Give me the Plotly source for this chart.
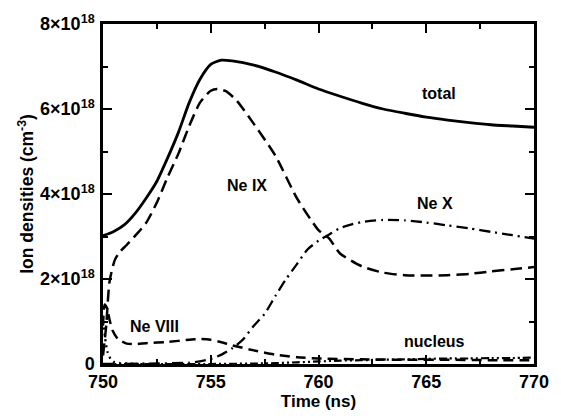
import plotly.graph_objects as go

# values in units of 1e18 cm^-3
t_total = [750, 750.5, 751, 751.5, 752, 752.5, 753, 753.5, 754, 754.5, 755, 755.5, 756, 757, 758, 759, 760, 761, 762, 763, 764, 765, 766, 767, 768, 769, 770]
total = [3.02, 3.12, 3.28, 3.55, 3.9, 4.3, 4.85, 5.45, 6.15, 6.7, 7.05, 7.15, 7.13, 7.03, 6.87, 6.68, 6.47, 6.3, 6.14, 6.0, 5.9, 5.81, 5.74, 5.68, 5.63, 5.6, 5.57]

t_ne9 = [750, 750.15, 750.3, 750.55, 750.8, 751.1, 751.5, 752, 752.5, 753, 753.5, 754, 754.5, 755, 755.3, 755.7, 756.2, 757, 758, 759, 760, 760.5, 761, 762, 763, 764, 765, 766, 767, 768, 769, 770]
ne9 = [0.2, 0.9, 1.93, 2.45, 2.65, 2.8, 3.02, 3.32, 3.8, 4.4, 4.95, 5.6, 6.15, 6.43, 6.47, 6.42, 6.2, 5.65, 4.9, 3.9, 3.15, 2.95, 2.6, 2.3, 2.15, 2.09, 2.08, 2.09, 2.12, 2.18, 2.23, 2.28]

t_ne8 = [750, 750.08, 750.2, 750.3, 750.45, 750.7, 751.1, 751.5, 752, 753, 754, 754.5, 755, 755.5, 756, 757, 758, 759, 760, 762, 764, 766, 768, 770]
ne8 = [0.9, 1.4, 1.3, 1.05, 0.78, 0.58, 0.48, 0.47, 0.49, 0.52, 0.57, 0.59, 0.57, 0.51, 0.44, 0.32, 0.22, 0.16, 0.13, 0.11, 0.1, 0.1, 0.09, 0.09]

t_ne10 = [750, 752, 754, 754.5, 755, 755.5, 756, 756.5, 757, 757.5, 758, 758.5, 759, 759.5, 760, 760.5, 761, 761.5, 762, 763, 764, 765, 766, 767, 768, 769, 770]
ne10 = [0.0, 0.01, 0.03, 0.06, 0.12, 0.22, 0.37, 0.58, 0.9, 1.18, 1.6, 2.0, 2.35, 2.7, 2.9, 3.05, 3.2, 3.28, 3.34, 3.39, 3.38, 3.33, 3.26, 3.19, 3.11, 3.03, 2.95]

t_ne7 = [750, 750.1, 750.2, 750.35, 750.5, 750.8, 751.2, 752]
ne7 = [1.0, 0.6, 0.3, 0.12, 0.05, 0.02, 0.01, 0.0]

t_nuc = [750, 755, 756, 757, 758, 759, 760, 761, 762, 763, 764, 765, 766, 767, 768, 769, 770]
nucleus = [0, 0, 0.005, 0.01, 0.02, 0.04, 0.06, 0.08, 0.09, 0.1, 0.11, 0.12, 0.13, 0.13, 0.14, 0.14, 0.15]

x_ticks = [750, 755, 760, 765, 770]
y_ticks = [0, 2, 4, 6, 8]
y_ticktext = ["0", "2×10<sup>18</sup>", "4×10<sup>18</sup>", "6×10<sup>18</sup>", "8×10<sup>18</sup>"]

labels = ["total", "Ne IX", "Ne X", "Ne VIII", "nucleus"]
label_x = [765.6, 756.7, 765.4, 752.4, 765.4]
label_y = [6.36, 4.2, 3.78, 0.88, 0.54]

FONT = "Liberation Sans, Arial, sans-serif"

fig = go.Figure()
series = [
    (t_total, total, "solid", 2.8),
    (t_ne9, ne9, "12px,6px", 2.5),
    (t_ne8, ne8, "10px,6px", 2.5),
    (t_ne10, ne10, "11px,5px,2px,5px", 2.3),
    (t_ne7, ne7, "2px,4px", 2.3),
    (t_nuc, nucleus, "8px,3px,2px,3px,2px,3px", 2.2),
]
for tx, ty, dash, w in series:
    fig.add_trace(go.Scatter(x=tx, y=ty, mode="lines", line=dict(color="black", width=w, dash=dash, shape="spline", smoothing=0.6), showlegend=False, hoverinfo="skip"))

for txt, lx, ly in zip(labels, label_x, label_y):
    fig.add_annotation(x=lx, y=ly, text=txt, showarrow=False, font=dict(family=FONT, size=16, color="black", weight="bold"))

fig.update_layout(
    width=561, height=418,
    margin=dict(l=103, r=16, t=20, b=42),
    paper_bgcolor="white", plot_bgcolor="white",
    font=dict(family=FONT, color="black", weight="bold"),
)
fig.update_xaxes(
    range=[750, 770], tickvals=x_ticks, ticks="inside", ticklen=9, tickwidth=1.5,
    minor=dict(dtick=2.5, tick0=750, ticks="inside", ticklen=5, tickwidth=1.5, tickcolor="black"),
    showline=True, linecolor="black", linewidth=2.5, mirror="ticks", showgrid=False, zeroline=False,
    tickfont=dict(family=FONT, size=18, color="black", weight="bold"),
    title=dict(text="Time (ns)", font=dict(family=FONT, size=17, color="black", weight="bold"), standoff=2),
    tickcolor="black",
)
fig.update_yaxes(
    range=[0, 8], tickvals=y_ticks, ticktext=y_ticktext, ticks="inside", ticklen=9, tickwidth=1.5,
    minor=dict(dtick=1, tick0=0, ticks="inside", ticklen=5, tickwidth=1.5, tickcolor="black"),
    showline=True, linecolor="black", linewidth=2.5, mirror="ticks", showgrid=False, zeroline=False,
    tickfont=dict(family=FONT, size=18, color="black", weight="bold"),
    ticklabelstandoff=2,
    title=dict(text="Ion densities (cm<sup>-3</sup>)", font=dict(family=FONT, size=17.5, color="black", weight="bold"), standoff=2),
    tickcolor="black",
)

fig.write_html("out.html")
